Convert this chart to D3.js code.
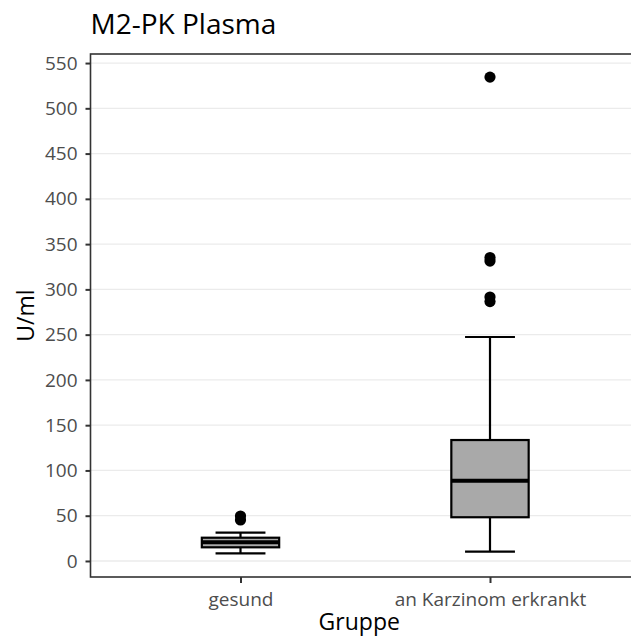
<!DOCTYPE html>
<html>
<head>
<meta charset="utf-8">
<script src="https://cdn.jsdelivr.net/npm/d3@7"></script>
<style>
  html, body { margin: 0; padding: 0; background: #fff; }
  svg { display: block; }
  text { font-family: "Open Sans", "Noto Sans", sans-serif; }
</style>
</head>
<body>
<svg id="chart" width="631" height="639"></svg>
<script>
// Groups and box statistics (U/ml)
const groups = ["gesund", "an Karzinom erkrankt"];
const lowerWhisker = [8.5, 10.3];
const q1 = [15.1, 48.3];
const median = [20.7, 88.7];
const q3 = [25.7, 133.6];
const upperWhisker = [31.3, 247.4];
const outliers = [
  [45.3, 49.7],
  [286.5, 291.5, 331.3, 335.2, 534.5]
];
const yTicks = [0, 50, 100, 150, 200, 250, 300, 350, 400, 450, 500, 550];

const svg = d3.select("#chart");
const panel = { left: 90.5, top: 54, right: 640, bottom: 577 };

// Discrete x positions with 0.6 expansion on each side
const x = d3.scalePoint().domain(groups)
  .range([panel.left + 150, panel.right - 150]);
const step = x.step();
const y = d3.scaleLinear().domain([-17.7, 560]).range([panel.bottom, panel.top]);

const boxW = step * 0.31;
const capW = step * 0.2;

// Panel background and grid
svg.append("rect").attr("x", panel.left).attr("y", panel.top)
  .attr("width", panel.right - panel.left).attr("height", panel.bottom - panel.top)
  .attr("fill", "#fff");

svg.append("g").selectAll("line").data(yTicks).join("line")
  .attr("x1", panel.left).attr("x2", panel.right)
  .attr("y1", d => y(d)).attr("y2", d => y(d))
  .attr("stroke", "#ebebeb").attr("stroke-width", 1.3);

// Box plots
const g = svg.append("g");
groups.forEach((grp, i) => {
  const cx = x(grp);
  // whiskers
  g.append("line").attr("x1", cx).attr("x2", cx)
    .attr("y1", y(q3[i])).attr("y2", y(upperWhisker[i]))
    .attr("stroke", "#000").attr("stroke-width", 2.2);
  g.append("line").attr("x1", cx).attr("x2", cx)
    .attr("y1", y(q1[i])).attr("y2", y(lowerWhisker[i]))
    .attr("stroke", "#000").attr("stroke-width", 2.2);
  // caps
  [upperWhisker[i], lowerWhisker[i]].forEach(v => {
    g.append("line").attr("x1", cx - capW / 2).attr("x2", cx + capW / 2)
      .attr("y1", y(v)).attr("y2", y(v))
      .attr("stroke", "#000").attr("stroke-width", 2.2);
  });
  // box
  g.append("rect").attr("x", cx - boxW / 2).attr("width", boxW)
    .attr("y", y(q3[i])).attr("height", y(q1[i]) - y(q3[i]))
    .attr("fill", "#a9a9a9").attr("stroke", "#000").attr("stroke-width", 2.2);
  // median
  g.append("line").attr("x1", cx - boxW / 2).attr("x2", cx + boxW / 2)
    .attr("y1", y(median[i])).attr("y2", y(median[i]))
    .attr("stroke", "#000").attr("stroke-width", 4);
  // outliers
  g.selectAll(null).data(outliers[i]).join("circle")
    .attr("cx", cx).attr("cy", d => y(d)).attr("r", 5.6).attr("fill", "#000");
});

// Panel border
svg.append("rect").attr("x", panel.left).attr("y", panel.top)
  .attr("width", panel.right - panel.left).attr("height", panel.bottom - panel.top)
  .attr("fill", "none").attr("stroke", "#333").attr("stroke-width", 1.6);

// Axes
const yAxis = svg.append("g").attr("transform", `translate(${panel.left},0)`)
  .call(d3.axisLeft(y).tickValues(yTicks).tickSize(5).tickPadding(8));
const xAxis = svg.append("g").attr("transform", `translate(0,${panel.bottom})`)
  .call(d3.axisBottom(x).tickSize(6).tickPadding(6));
[yAxis, xAxis].forEach(a => {
  a.select(".domain").remove();
  a.selectAll(".tick line").attr("stroke", "#333").attr("stroke-width", 2);
  a.selectAll(".tick text").attr("fill", "#4d4d4d").style("font-size", "19px")
    .style("font-family", "'Open Sans', 'Noto Sans', sans-serif");
});
xAxis.selectAll(".tick text").attr("dy", "0.9em");

// Titles
svg.append("text").attr("x", panel.left).attr("y", 34)
  .style("font-size", "28px").attr("fill", "#000").text("M2-PK Plasma");
svg.append("text").attr("x", (panel.left + 628) / 2).attr("y", 630)
  .attr("text-anchor", "middle").style("font-size", "23px").attr("fill", "#000")
  .text("Gruppe");
svg.append("text")
  .attr("transform", `translate(34,${(panel.top + panel.bottom) / 2}) rotate(-90)`)
  .attr("text-anchor", "middle").style("font-size", "23px").attr("fill", "#000")
  .text("U/ml");
</script>
</body>
</html>
